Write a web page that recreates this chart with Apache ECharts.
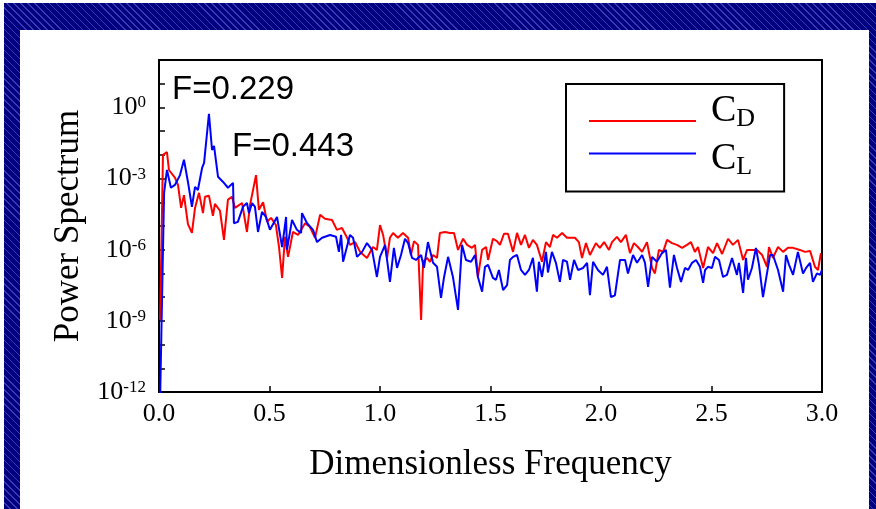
<!DOCTYPE html>
<html>
<head>
<meta charset="utf-8">
<script src="https://cdn.jsdelivr.net/npm/echarts@6/dist/echarts.min.js"></script>
<style>
  html, body { margin: 0; padding: 0; background: #fff; }
  #wrap { position: relative; width: 876px; height: 509px; overflow: hidden; }
  #frame { position: absolute; left: 4px; top: 3px; width: 872px; height: 506px;
    background: repeating-linear-gradient(45deg, #000080 0px, #000080 4px, #3b3bb0 4px, #3b3bb0 5px); }
  #inner { position: absolute; left: 20px; top: 30px; width: 849px; height: 479px; background: #fff; }
  #chart { position: absolute; left: 0; top: 0; width: 876px; height: 509px; }
</style>
</head>
<body>
<div id="wrap">
  <div id="frame"></div>
  <div id="inner"></div>
  <div id="chart"></div>
</div>
<script>
// ---- data ----
const freqCD = [0.005,0.018,0.036,0.045,0.072,0.086,0.100,0.113,0.131,0.149,0.163,0.181,0.199,0.208,0.226,0.244,0.253,0.276,0.294,0.312,0.330,0.344,0.376,0.398,0.412,0.439,0.452,0.471,0.489,0.507,0.529,0.543,0.557,0.570,0.584,0.606,0.629,0.661,0.683,0.706,0.729,0.751,0.783,0.805,0.828,0.851,0.864,0.887,0.910,0.941,0.968,0.986,1.000,1.014,1.032,1.045,1.059,1.081,1.104,1.127,1.140,1.154,1.172,1.186,1.195,1.213,1.226,1.240,1.258,1.271,1.294,1.317,1.335,1.353,1.376,1.394,1.416,1.430,1.443,1.462,1.480,1.489,1.511,1.529,1.543,1.561,1.579,1.602,1.620,1.638,1.656,1.674,1.692,1.710,1.733,1.751,1.769,1.783,1.801,1.824,1.846,1.864,1.882,1.900,1.914,1.932,1.950,1.977,1.995,2.014,2.036,2.050,2.072,2.090,2.113,2.131,2.149,2.167,2.186,2.208,2.231,2.244,2.262,2.281,2.299,2.321,2.344,2.367,2.389,2.407,2.425,2.439,2.462,2.484,2.507,2.525,2.548,2.575,2.597,2.620,2.643,2.661,2.683,2.706,2.729,2.751,2.760,2.778,2.801,2.824,2.846,2.869,2.900,2.923,2.946,2.968,2.982,2.995];
const powerCD = [1.1e-9,1.0e-2,1.3e-2,2.3e-3,1.1e-3,5.4e-4,5.8e-5,2.0e-4,1.2e-5,5.1e-6,5.8e-5,2.5e-4,3.5e-5,1.7e-4,1.9e-4,2.7e-5,8.5e-5,4.4e-5,2.6e-6,1.3e-4,1.7e-4,5.8e-5,9.3e-5,5.6e-6,7.8e-5,1.4e-3,4.8e-5,1.0e-4,1.5e-5,2.2e-5,1.1e-5,1.3e-6,6.5e-8,3.5e-6,5.0e-7,5.6e-6,4.2e-6,1.3e-5,9.1e-6,3.2e-6,3.0e-5,2.0e-5,1.8e-5,6.9e-6,8.3e-6,3.2e-6,1.6e-6,2.1e-6,8.1e-7,4.5e-7,1.3e-6,9.8e-7,1.1e-5,4.2e-6,4.5e-7,3.2e-6,5.1e-6,3.2e-6,5.1e-6,3.2e-6,6.0e-7,2.3e-6,1.6e-6,1.1e-9,3.1e-7,4.5e-7,3.1e-7,6.0e-7,4.5e-7,5.1e-6,5.6e-6,5.1e-6,5.1e-6,9.8e-7,2.9e-6,1.6e-6,1.2e-6,1.6e-6,7.1e-8,9.8e-7,1.3e-6,3.7e-7,2.9e-6,2.3e-6,1.6e-6,4.7e-6,4.7e-6,8.1e-7,5.1e-6,1.6e-6,4.2e-6,1.2e-6,2.6e-6,1.6e-6,3.1e-7,2.1e-6,1.3e-6,4.2e-6,3.2e-6,5.1e-6,3.2e-6,3.2e-6,3.2e-6,2.1e-6,4.5e-7,1.9e-6,6.0e-7,1.9e-6,1.2e-6,2.1e-6,9.8e-7,2.1e-6,3.5e-6,2.1e-6,4.2e-6,7.2e-7,1.9e-6,1.3e-6,8.1e-7,2.1e-6,1.7e-7,1.0e-7,9.8e-7,8.1e-7,2.6e-6,1.9e-6,1.6e-6,1.2e-6,1.6e-6,2.1e-6,8.1e-7,1.3e-6,1.7e-7,1.3e-6,7.2e-7,1.9e-6,6.6e-7,2.9e-6,1.6e-6,2.6e-6,3.7e-7,9.8e-7,9.8e-7,9.8e-7,6.0e-7,1.9e-7,1.3e-6,4.5e-7,1.3e-6,8.1e-7,1.2e-6,1.2e-6,9.8e-7,8.1e-7,8.9e-7,1.9e-7,1.4e-7,7.2e-7];

const freqCL = [0.005,0.023,0.036,0.054,0.072,0.095,0.113,0.131,0.149,0.163,0.176,0.195,0.204,0.226,0.240,0.249,0.267,0.290,0.312,0.335,0.339,0.357,0.380,0.398,0.407,0.421,0.434,0.448,0.466,0.484,0.502,0.534,0.557,0.575,0.579,0.602,0.624,0.643,0.647,0.670,0.697,0.715,0.738,0.774,0.801,0.814,0.824,0.833,0.864,0.878,0.896,0.919,0.941,0.964,0.986,1.000,1.023,1.045,1.063,1.077,1.095,1.113,1.127,1.145,1.163,1.186,1.199,1.217,1.240,1.258,1.276,1.290,1.308,1.330,1.353,1.371,1.389,1.412,1.430,1.443,1.462,1.475,1.489,1.511,1.525,1.538,1.557,1.575,1.588,1.602,1.620,1.638,1.656,1.674,1.692,1.710,1.719,1.733,1.751,1.760,1.778,1.796,1.814,1.828,1.846,1.860,1.878,1.896,1.919,1.937,1.950,1.964,1.986,2.009,2.027,2.045,2.063,2.086,2.109,2.122,2.145,2.163,2.186,2.199,2.213,2.231,2.253,2.276,2.294,2.312,2.330,2.344,2.362,2.380,2.394,2.412,2.430,2.448,2.462,2.471,2.484,2.502,2.516,2.534,2.552,2.570,2.593,2.615,2.624,2.643,2.656,2.665,2.683,2.701,2.715,2.733,2.751,2.765,2.778,2.801,2.824,2.837,2.851,2.869,2.891,2.914,2.928,2.946,2.959,2.977,2.991,3.000];
const powerCL = [5e-13,2.5e-4,2.3e-3,4.1e-4,5.4e-4,1.4e-3,6.2e-3,7.2e-4,6.5e-5,4.5e-4,3.3e-4,2.8e-3,4.6e-3,0.54,1.6e-2,2.4e-2,1.2e-3,7.2e-4,4.1e-4,6.6e-4,1.3e-5,1.5e-5,6.5e-5,9.3e-5,3.5e-5,9.3e-5,6.5e-5,5.6e-6,3.9e-5,2.4e-5,6.9e-6,2.4e-5,1.3e-6,2.4e-5,9.8e-7,1.8e-5,6.9e-6,5.1e-6,3.5e-5,1.3e-5,6.9e-6,2.1e-6,3.2e-6,4.2e-6,3.5e-6,8.1e-7,4.2e-6,3.1e-7,4.2e-6,3.2e-6,5.0e-7,8.1e-7,1.9e-6,9.8e-7,7.1e-8,5.0e-7,1.6e-6,4.4e-8,1.2e-6,1.7e-7,6.0e-7,2.9e-6,1.9e-6,4.5e-7,3.7e-7,6.0e-7,1.7e-7,2.1e-6,2.8e-7,1.9e-7,9.3e-9,7.1e-8,5.0e-7,7.1e-8,2.9e-9,1.6e-6,3.7e-7,3.1e-7,6.0e-7,7.1e-8,1.7e-8,1.9e-7,2.3e-7,6.5e-8,5.4e-8,1.4e-7,2.0e-8,3.2e-8,3.7e-7,5.0e-7,6.0e-7,1.4e-7,8.7e-8,1.4e-7,4.5e-7,1.7e-8,3.1e-7,7.1e-8,8.1e-7,1.1e-7,8.1e-7,2.8e-7,4.4e-8,3.7e-7,3.1e-7,5.4e-8,3.7e-7,1.4e-7,1.7e-7,2.8e-7,1.2e-8,3.1e-7,1.4e-7,8.7e-8,1.9e-7,1.0e-8,1.2e-8,3.7e-7,3.7e-7,1.0e-7,6.0e-7,2.8e-7,6.0e-7,2.8e-7,2.7e-8,5.0e-7,3.1e-7,7.2e-7,9.8e-7,2.5e-8,6.0e-7,1.7e-7,4.4e-8,1.7e-7,1.4e-7,2.8e-7,3.7e-7,1.9e-7,4.0e-8,1.4e-7,1.9e-7,1.7e-7,5.0e-7,3.7e-7,7.1e-8,8.7e-8,4.5e-7,8.7e-8,2.8e-7,1.5e-8,4.5e-7,5.4e-8,1.7e-7,1.2e-6,2.3e-7,1.0e-8,1.0e-7,6.0e-7,6.0e-7,1.4e-7,1.7e-8,6.0e-7,2.3e-7,8.7e-8,8.1e-7,1.0e-7,1.7e-7,2.8e-7,4.4e-8,1.0e-7,8.7e-8,1.4e-7];

const xTicks = [0, 0.5, 1.0, 1.5, 2.0, 2.5, 3.0];
const labeledExponents = [-12, -9, -6, -3, 0];
const annotations = ['F=0.229', 'F=0.443'];
const seriesNames = ['C_D', 'C_L'];

const serif = '"Liberation Serif", "Times New Roman", serif';
const sans = '"Liberation Sans", Arial, sans-serif';

const chart = echarts.init(document.getElementById('chart'), null, { renderer: 'canvas' });

const option = {
  backgroundColor: 'transparent',
  animation: false,
  grid: { left: 159, right: 54, top: 60, bottom: 117, show: true, borderColor: '#000', borderWidth: 2, backgroundColor: 'transparent' },
  xAxis: {
    type: 'value', min: xTicks[0], max: xTicks[xTicks.length - 1], interval: 0.5,
    name: 'Dimensionless Frequency', nameLocation: 'middle', nameGap: 55,
    nameTextStyle: { fontFamily: serif, fontSize: 35, color: '#000' },
    axisLine: { show: true, onZero: false, lineStyle: { color: '#000', width: 2 } },
    axisTick: { show: true, inside: true, length: 6, lineStyle: { color: '#000', width: 1.5 } },
    axisLabel: { fontFamily: serif, fontSize: 26, color: '#000', margin: 9, formatter: v => v.toFixed(1) },
    splitLine: { show: false }
  },
  yAxis: {
    type: 'log', logBase: 10, min: 1e-12, max: 1e2, interval: 1,
    name: 'Power Spectrum', nameLocation: 'middle', nameGap: 70, nameRotate: 90,
    nameTextStyle: { fontFamily: serif, fontSize: 35, color: '#000' },
    axisLine: { show: true, lineStyle: { color: '#000', width: 2 } },
    axisTick: { show: true, inside: true, length: 6, lineStyle: { color: '#000', width: 1.5 } },
    axisLabel: {
      margin: 13, color: '#000', showMaxLabel: false,
      formatter: function (v) {
        const e = Math.round(Math.log10(v));
        if (labeledExponents.indexOf(e) < 0) return '';
        return '{b|10}{s|' + e + '}';
      },
      rich: {
        b: { fontFamily: serif, fontSize: 26, lineHeight: 26, color: '#000' },
        s: { fontFamily: serif, fontSize: 17, lineHeight: 12, verticalAlign: 'top', color: '#000' }
      }
    },
    splitLine: { show: false }
  },
  legend: {
    orient: 'vertical', left: 566, top: 84,
    padding: [8.5, 29, 11, 22], itemGap: -8.5,
    itemWidth: 107, itemHeight: 33,
    borderColor: '#000', borderWidth: 2, backgroundColor: '#fff',
    itemStyle: { opacity: 0 },
    data: [
      { name: seriesNames[0] },
      { name: seriesNames[1] }
    ],
    formatter: function (name) {
      if (name === seriesNames[0]) return '{c|C}{s|D}\n{g1|}';
      return '{g2|}\n{c|C}{s|L}';
    },
    textStyle: {
      color: '#000',
      rich: {
        c: { fontFamily: serif, fontSize: 38, lineHeight: 40, verticalAlign: 'top', padding: [0, 0, 0, 10], color: '#000' },
        s: { fontFamily: serif, fontSize: 26, lineHeight: 10, verticalAlign: 'bottom', color: '#000' },
        g1: { lineHeight: 17, fontSize: 1 },
        g2: { lineHeight: 14, fontSize: 1 }
      }
    }
  },
  graphic: [
    { type: 'text', x: 172, y: 90, z: 100, style: { text: annotations[0], fontFamily: sans, fontSize: 33, fill: '#000', align: 'left', verticalAlign: 'middle' } },
    { type: 'text', x: 232, y: 147, z: 100, style: { text: annotations[1], fontFamily: sans, fontSize: 33, fill: '#000', align: 'left', verticalAlign: 'middle' } }
  ],
  series: [
    {
      name: seriesNames[0], type: 'line', showSymbol: false, symbol: 'none', clip: true,
      lineStyle: { color: '#ff0000', width: 2 }, itemStyle: { color: '#ff0000' },
      data: freqCD.map((f, i) => [f, powerCD[i]])
    },
    {
      name: seriesNames[1], type: 'line', showSymbol: false, symbol: 'none', clip: true,
      lineStyle: { color: '#0000ff', width: 2 }, itemStyle: { color: '#0000ff' },
      data: freqCL.map((f, i) => [f, powerCL[i]])
    }
  ]
};
chart.setOption(option);
</script>
</body>
</html>
